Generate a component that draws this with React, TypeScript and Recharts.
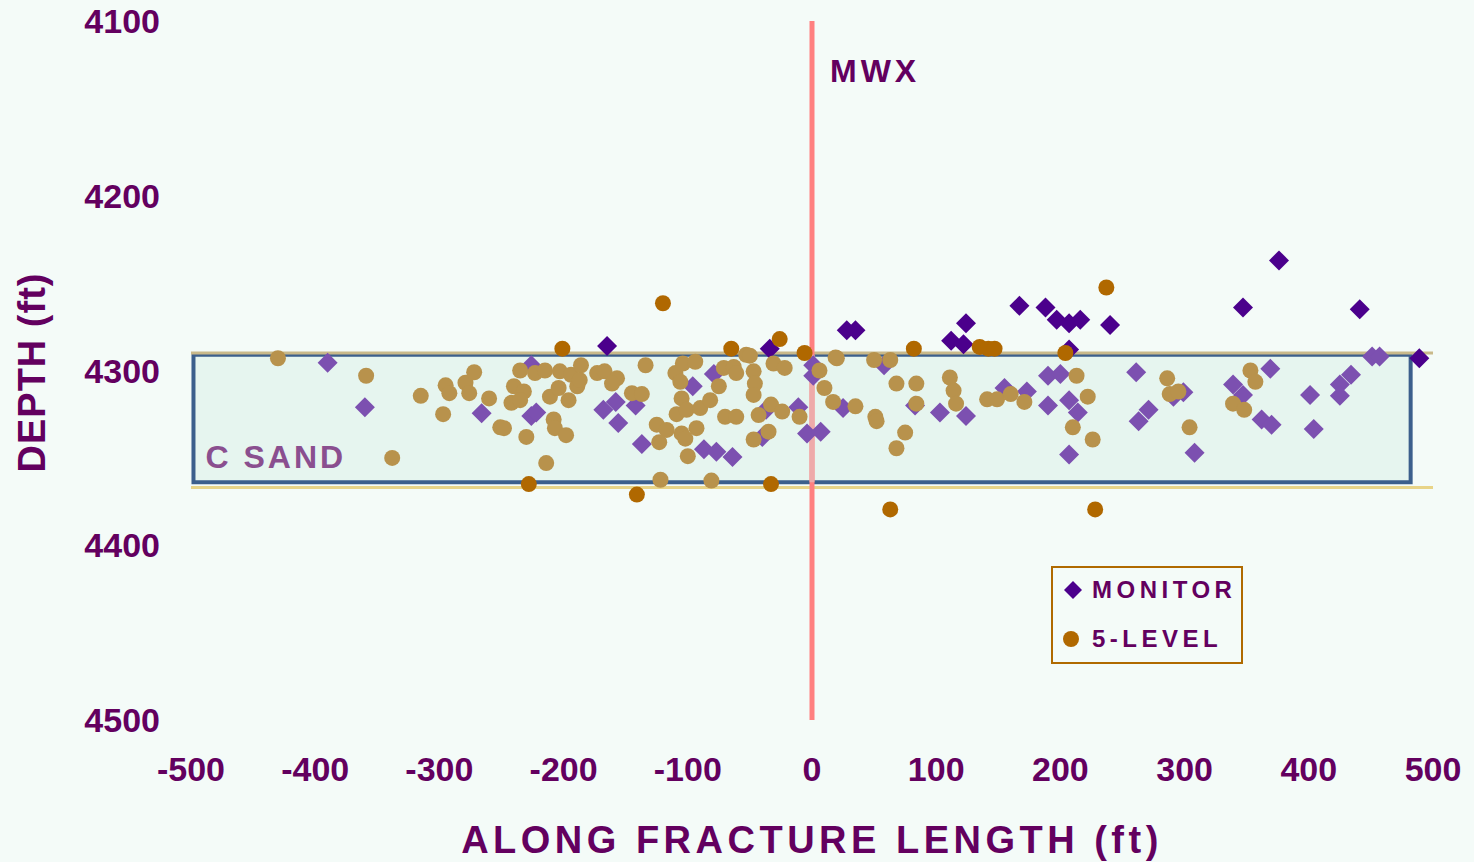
import React from "react";
import {
  ScatterChart,
  Scatter,
  XAxis,
  YAxis,
  ReferenceArea,
  ReferenceLine,
  Legend,
  Label,
} from "recharts";

const X_TICKS = [-500, -400, -300, -200, -100, 0, 100, 200, 300, 400, 500];
const DEPTH_TICKS = [4100, 4200, 4300, 4400, 4500];

// C sand interval and the two marker lines around it (ft)
const C_SAND = { left: -498, right: 482, top: 4291, bottom: 4364 };
const SAND_TOP_LINE = 4290;
const SAND_BASE_LINE = 4367;

const MONITOR = [
  { x: -165, depth: 4286 },
  { x: -34, depth: 4287.5 },
  { x: 28, depth: 4277 },
  { x: 35, depth: 4277 },
  { x: 124, depth: 4273 },
  { x: 112, depth: 4283 },
  { x: 122, depth: 4285 },
  { x: 167, depth: 4263 },
  { x: 188, depth: 4264 },
  { x: 197, depth: 4271 },
  { x: 207, depth: 4273 },
  { x: 216, depth: 4271 },
  { x: 240, depth: 4274 },
  { x: 207, depth: 4288 },
  { x: 376, depth: 4237 },
  { x: 347, depth: 4264 },
  { x: 441, depth: 4265 },
  { x: 489, depth: 4293 },
  { x: 451, depth: 4292 },
  { x: 457, depth: 4292 },
  { x: -390, depth: 4295.5 },
  { x: -360, depth: 4321 },
  { x: -266, depth: 4324.5 },
  { x: -226, depth: 4297 },
  { x: -226, depth: 4326 },
  { x: -222, depth: 4324 },
  { x: -168, depth: 4322.5 },
  { x: -158, depth: 4318 },
  { x: -142, depth: 4320 },
  { x: -156, depth: 4330 },
  { x: -137, depth: 4342 },
  { x: -96, depth: 4309 },
  { x: -79, depth: 4302 },
  { x: -87, depth: 4345 },
  { x: -77, depth: 4346.5 },
  { x: -64, depth: 4349.5 },
  { x: -37, depth: 4322.5 },
  { x: -40, depth: 4338 },
  { x: -11, depth: 4321 },
  { x: -4, depth: 4336 },
  { x: 7, depth: 4335 },
  { x: 1, depth: 4297 },
  { x: 1, depth: 4303 },
  { x: 25, depth: 4321.5 },
  { x: 58, depth: 4297 },
  { x: 83, depth: 4320 },
  { x: 103, depth: 4324 },
  { x: 124, depth: 4326 },
  { x: 155, depth: 4310 },
  { x: 173, depth: 4312 },
  { x: 190, depth: 4303 },
  { x: 200, depth: 4302 },
  { x: 190, depth: 4320 },
  { x: 207, depth: 4317 },
  { x: 214, depth: 4324 },
  { x: 207, depth: 4348 },
  { x: 261, depth: 4301 },
  { x: 271, depth: 4322.5 },
  { x: 263, depth: 4329 },
  { x: 291, depth: 4315 },
  { x: 299, depth: 4312.5 },
  { x: 308, depth: 4347 },
  { x: 339, depth: 4308 },
  { x: 347, depth: 4314 },
  { x: 362, depth: 4328 },
  { x: 370, depth: 4331 },
  { x: 369, depth: 4299 },
  { x: 401, depth: 4314 },
  { x: 404, depth: 4333.5 },
  { x: 425, depth: 4308 },
  { x: 425, depth: 4314.5 },
  { x: 434, depth: 4302.5 },
];

const FIVE_LEVEL = [
  { x: -430, depth: 4293 },
  { x: -120, depth: 4261.5 },
  { x: -201, depth: 4287.5 },
  { x: -65, depth: 4287.5 },
  { x: -26, depth: 4282 },
  { x: -6, depth: 4290 },
  { x: -53, depth: 4291 },
  { x: -228, depth: 4365 },
  { x: -141, depth: 4371 },
  { x: -122, depth: 4362.5 },
  { x: -81, depth: 4363 },
  { x: -33, depth: 4365 },
  { x: 19, depth: 4292.5 },
  { x: 82, depth: 4287.5 },
  { x: 135, depth: 4286.5 },
  { x: 142, depth: 4287.5 },
  { x: 147, depth: 4287.5 },
  { x: 237, depth: 4252.5 },
  { x: 63, depth: 4379.5 },
  { x: 228, depth: 4379.5 },
  { x: 204, depth: 4290 },
  { x: -359, depth: 4303 },
  { x: -338, depth: 4350 },
  { x: -315, depth: 4314.5 },
  { x: -297, depth: 4325 },
  { x: -295, depth: 4308.5 },
  { x: -292, depth: 4313 },
  { x: -279, depth: 4307 },
  { x: -272, depth: 4301 },
  { x: -276, depth: 4313 },
  { x: -260, depth: 4316 },
  { x: -251, depth: 4332.5 },
  { x: -235, depth: 4300 },
  { x: -223, depth: 4301.5 },
  { x: -215, depth: 4300 },
  { x: -203, depth: 4300.5 },
  { x: -194, depth: 4302.5 },
  { x: -186, depth: 4297 },
  { x: -173, depth: 4301.5 },
  { x: -167, depth: 4300.5 },
  { x: -157, depth: 4304.5 },
  { x: -161, depth: 4307.5 },
  { x: -240, depth: 4309 },
  { x: -232, depth: 4312 },
  { x: -242, depth: 4318.5 },
  { x: -235, depth: 4317 },
  { x: -211, depth: 4315 },
  { x: -204, depth: 4310 },
  { x: -196, depth: 4317 },
  { x: -189, depth: 4309 },
  { x: -187, depth: 4305.5 },
  { x: -208, depth: 4328 },
  { x: -207, depth: 4333 },
  { x: -198, depth: 4337 },
  { x: -230, depth: 4338 },
  { x: -248, depth: 4333 },
  { x: -214, depth: 4353 },
  { x: -134, depth: 4297 },
  { x: -145, depth: 4313 },
  { x: -137, depth: 4313.5 },
  { x: -110, depth: 4301.5 },
  { x: -106, depth: 4306.5 },
  { x: -104, depth: 4296 },
  { x: -94, depth: 4295 },
  { x: -105, depth: 4316 },
  { x: -109, depth: 4325 },
  { x: -101, depth: 4322.5 },
  { x: -90, depth: 4321.5 },
  { x: -82, depth: 4317 },
  { x: -125, depth: 4331 },
  { x: -117, depth: 4334 },
  { x: -105, depth: 4336 },
  { x: -93, depth: 4333 },
  { x: -102, depth: 4339 },
  { x: -123, depth: 4341 },
  { x: -100, depth: 4349 },
  { x: -75, depth: 4309 },
  { x: -71, depth: 4298.5 },
  { x: -63, depth: 4298 },
  { x: -61, depth: 4301.5 },
  { x: -47, depth: 4300.5 },
  { x: -46, depth: 4307.5 },
  { x: -47, depth: 4314 },
  { x: -70, depth: 4326.5 },
  { x: -61, depth: 4326.5 },
  { x: -43, depth: 4325.5 },
  { x: -33, depth: 4319.5 },
  { x: -24, depth: 4323.5 },
  { x: -10, depth: 4326.5 },
  { x: -35, depth: 4335 },
  { x: -47, depth: 4339.5 },
  { x: -31, depth: 4296 },
  { x: -22, depth: 4298.5 },
  { x: -50, depth: 4291.5 },
  { x: 6, depth: 4300 },
  { x: 10, depth: 4310 },
  { x: 17, depth: 4318 },
  { x: 35, depth: 4320.5 },
  { x: 20, depth: 4293 },
  { x: 50, depth: 4294 },
  { x: 63, depth: 4294 },
  { x: 68, depth: 4307.5 },
  { x: 84, depth: 4307.5 },
  { x: 84, depth: 4319 },
  { x: 51, depth: 4326.5 },
  { x: 52, depth: 4329 },
  { x: 75, depth: 4335.5 },
  { x: 68, depth: 4344.5 },
  { x: 111, depth: 4304 },
  { x: 114, depth: 4311.5 },
  { x: 116, depth: 4319 },
  { x: 141, depth: 4316.5 },
  { x: 149, depth: 4316.5 },
  { x: 160, depth: 4313.5 },
  { x: 171, depth: 4318 },
  { x: 213, depth: 4303 },
  { x: 222, depth: 4315 },
  { x: 210, depth: 4332.5 },
  { x: 226, depth: 4339.5 },
  { x: 286, depth: 4304.5 },
  { x: 288, depth: 4313.5 },
  { x: 295, depth: 4312 },
  { x: 304, depth: 4332.5 },
  { x: 353, depth: 4300 },
  { x: 357, depth: 4306.5 },
  { x: 339, depth: 4319 },
  { x: 348, depth: 4322.5 },
];

const TEXT = "#63005f";
const FONT = "'Liberation Sans', Arial, sans-serif";

const inSand = (p: { x: number; depth: number }) =>
  p.x >= C_SAND.left &&
  p.x <= C_SAND.right &&
  p.depth >= C_SAND.top &&
  p.depth <= C_SAND.bottom;

const DiamondShape = (props: any) => {
  const { cx, cy, payload } = props;
  const h = 10;
  const fill = inSand(payload) ? "#7c50b0" : "#4b008c";
  return (
    <polygon
      points={`${cx},${cy - h} ${cx + h},${cy} ${cx},${cy + h} ${cx - h},${cy}`}
      fill={fill}
    />
  );
};

const DotShape = (props: any) => {
  const { cx, cy, payload } = props;
  const fill = inSand(payload) ? "#b8924c" : "#b06800";
  return <circle cx={cx} cy={cy} r={8} fill={fill} />;
};

const renderLegend = () => (
  <div
    style={{
      width: 192,
      height: 98,
      boxSizing: "border-box",
      border: "2.5px solid #b06a00",
      position: "relative",
      fontFamily: FONT,
      fontWeight: "bold",
      fontSize: 24,
      letterSpacing: 4.5,
      color: TEXT,
    }}
  >
    <svg width={20} height={20} style={{ position: "absolute", left: 10, top: 12 }}>
      <polygon points="10,1 19,10 10,19 1,10" fill="#4b008c" />
    </svg>
    <span style={{ position: "absolute", left: 39, top: 8 }}>MONITOR</span>
    <svg width={18} height={18} style={{ position: "absolute", left: 9, top: 62 }}>
      <circle cx={9} cy={9} r={8} fill="#b06800" />
    </svg>
    <span style={{ position: "absolute", left: 39, top: 57 }}>5-LEVEL</span>
  </div>
);

const tickStyle = {
  fill: TEXT,
  fontFamily: FONT,
  fontWeight: "bold",
  fontSize: 34,
};

const App: React.FC = () => {
  return (
    <div
      style={{
        position: "absolute",
        left: 0,
        top: 0,
        width: 1474,
        height: 862,
        background: "#f4fbf8",
      }}
    >
      <ScatterChart
        width={1474}
        height={862}
        margin={{ top: 21, right: 41, bottom: 42, left: 0 }}
      >
        <XAxis
          type="number"
          dataKey="x"
          domain={[-500, 500]}
          ticks={X_TICKS}
          axisLine={false}
          tickLine={false}
          tickMargin={31}
          height={100}
          tick={tickStyle}
          interval={0}
        >
          <Label
            content={(props: any) => {
              const vb = props.viewBox;
              return (
                <text
                  x={vb.x + vb.width / 2}
                  y={vb.y + 133}
                  textAnchor="middle"
                  fill={TEXT}
                  fontFamily={FONT}
                  fontWeight="bold"
                  fontSize={38}
                  letterSpacing={4.5}
                >
                  ALONG FRACTURE LENGTH (ft)
                </text>
              );
            }}
          />
        </XAxis>
        <YAxis
          type="number"
          dataKey="depth"
          domain={[4100, 4500]}
          ticks={DEPTH_TICKS}
          reversed
          axisLine={false}
          tickLine={false}
          tickMargin={25}
          width={191}
          tick={tickStyle}
          interval={0}
        >
          <Label
            content={(props: any) => {
              const vb = props.viewBox;
              const cx = 45;
              const cy = vb.y + vb.height / 2 + 2;
              return (
                <text
                  x={cx}
                  y={cy}
                  transform={`rotate(-90 ${cx} ${cy})`}
                  textAnchor="middle"
                  fill={TEXT}
                  fontFamily={FONT}
                  fontWeight="bold"
                  fontSize={38}
                  letterSpacing={1}
                >
                  DEPTH (ft)
                </text>
              );
            }}
          />
        </YAxis>
        <ReferenceLine y={SAND_TOP_LINE} stroke="#c9b98a" strokeWidth={3} />
        <ReferenceLine y={SAND_BASE_LINE} stroke="#e8d488" strokeWidth={3} />
        <ReferenceArea
          x1={C_SAND.left}
          x2={C_SAND.right}
          y1={C_SAND.top}
          y2={C_SAND.bottom}
          fill="#e6f5ef"
          fillOpacity={1}
          stroke="none"
          label={(props: any) => {
            const vb = props.viewBox;
            return (
              <text
                x={vb.x + 12}
                y={vb.y + vb.height - 14}
                fill="#8a4f8f"
                fontFamily={FONT}
                fontWeight="bold"
                fontSize={32}
                letterSpacing={3}
              >
                C SAND
              </text>
            );
          }}
        />
        <ReferenceLine
          x={0}
          stroke="#ff8080"
          strokeWidth={5}
          label={(props: any) => {
            const vb = props.viewBox;
            return (
              <text
                x={vb.x + 18}
                y={vb.y + 61}
                fill={TEXT}
                fontFamily={FONT}
                fontWeight="bold"
                fontSize={32}
                letterSpacing={4}
              >
                MWX
              </text>
            );
          }}
        />
        <ReferenceLine
          segment={[
            { x: 0, y: C_SAND.top },
            { x: 0, y: C_SAND.bottom },
          ]}
          stroke="#eeaaaa"
          strokeWidth={5}
        />
        <Scatter
          name="MONITOR"
          data={MONITOR}
          shape={DiamondShape}
          isAnimationActive={false}
        />
        <Scatter
          name="5-LEVEL"
          data={FIVE_LEVEL}
          shape={DotShape}
          isAnimationActive={false}
        />
        <ReferenceArea
          x1={C_SAND.left}
          x2={C_SAND.right}
          y1={C_SAND.top}
          y2={C_SAND.bottom}
          fill="none"
          stroke="#3c5f8c"
          strokeWidth={4}
        />
        <Legend
          layout="horizontal"
          verticalAlign="middle"
          align="center"
          wrapperStyle={{ left: 1051, top: 566, width: 192, height: 98 }}
          content={renderLegend}
        />
      </ScatterChart>
    </div>
  );
};

export default App;
